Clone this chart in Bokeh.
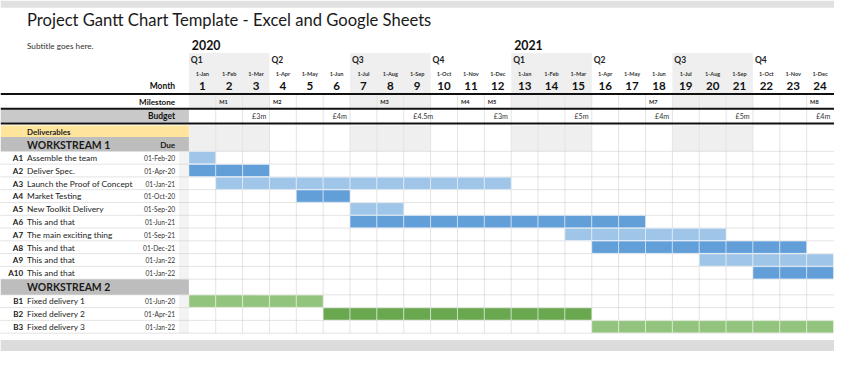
from bokeh.plotting import figure
from bokeh.models import Range1d, ColumnDataSource
from bokeh.core.properties import value
from bokeh.embed import file_html
from bokeh.resources import INLINE

# ---------------- data ----------------
months = list(range(1, 25))
month_dates = ["1-Jan", "1-Feb", "1-Mar", "1-Apr", "1-May", "1-Jun",
               "1-Jul", "1-Aug", "1-Sep", "1-Oct", "1-Nov", "1-Dec"] * 2
years = ["2020", "2021"]
year_start = [1, 13]
quarters = ["Q1", "Q2", "Q3", "Q4", "Q1", "Q2", "Q3", "Q4"]
quarter_start = [1, 4, 7, 10, 13, 16, 19, 22]
milestones = ["M1", "M2", "M3", "M4", "M5", "M7", "M8"]
milestone_month = [2, 4, 8, 11, 12, 18, 24]
budgets = ["£3m", "£4m", "£4.5m", "£3m", "£5m", "£4m", "£5m", "£4m"]

ws1_ids = ["A1", "A2", "A3", "A4", "A5", "A6", "A7", "A8", "A9", "A10"]
ws1_names = ["Assemble the team", "Deliver Spec.", "Launch the Proof of Concept",
             "Market Testing", "New Toolkit Delivery", "This and that",
             "The main exciting thing", "This and that", "This and that", "This and that"]
ws1_due = ["01-Feb-20", "01-Apr-20", "01-Jan-21", "01-Oct-20", "01-Sep-20",
           "01-Jun-21", "01-Sep-21", "01-Dec-21", "01-Jan-22", "01-Jan-22"]
ws1_start = [1, 1, 2, 5, 7, 7, 15, 16, 20, 22]
ws1_end = [1, 3, 12, 6, 8, 17, 20, 23, 24, 24]
ws1_tone = ["light", "dark", "light", "dark", "light", "dark", "light", "dark", "light", "dark"]

ws2_ids = ["B1", "B2", "B3"]
ws2_names = ["Fixed delivery 1", "Fixed delivery 2", "Fixed delivery 3"]
ws2_due = ["01-Jun-20", "01-Apr-21", "01-Jan-22"]
ws2_start = [1, 6, 16]
ws2_end = [5, 15, 24]
ws2_tone = ["light", "dark", "light"]

# ---------------- layout helpers ----------------
CW = 27.375          # reference px per month column
LEFT = 192.0         # left panel width (reference px)
FS = 0.965           # font scale for fitted figure
FONT = "Lato"


def L(px):
    return (px - LEFT) / CW


def fs(v):
    return "%.2fpx" % (v * FS)


p = figure(width=834, height=351, output_backend="svg", toolbar_location=None,
           x_range=Range1d(L(0), L(850)), y_range=Range1d(367, 0),
           min_border=0, outline_line_color=None, background_fill_color="white",
           border_fill_color="white")
p.axis.visible = False
p.grid.visible = False

X0, X1 = L(0), L(850)

# frame strips
p.quad(left=[X0], right=[X1], top=[0], bottom=[7.5], fill_color="#e1e1e1", line_color=None)
p.quad(left=[X0], right=[X1], top=[355], bottom=[367], fill_color="#dcdcdc", line_color=None)

# row geometry
RH = 13.37
a_top = [157.7 + RH * i for i in range(len(ws1_ids))]
ws2_top = a_top[-1] + RH
ws2_bot = 307.7
b_top = [ws2_bot + RH * i for i in range(len(ws2_ids))]
body_bot = b_top[-1] + RH

# quarter shading (Q1, Q3)
shade_q = [i for i in range(len(quarters)) if quarters[i] in ("Q1", "Q3")]
ql = [quarter_start[i] - 1 for i in shade_q]
qr = [quarter_start[i] + 2 for i in shade_q]
for top, bot in [(55, 96.8), (98.8, 112.2), (130.8, 157.7)]:
    p.quad(left=ql, right=qr, top=[top] * len(ql), bottom=[bot] * len(ql),
           fill_color="#efefef", line_color=None)

# left panel bands
p.quad(left=[X0], right=[0], top=[114], bottom=[127.6], fill_color="#c9c9c9", line_color=None)
p.quad(left=[X0], right=[0], top=[130.8], bottom=[142.7], fill_color="#ffe59b", line_color=None)
p.quad(left=[X0, X0], right=[0, 0], top=[142.7, ws2_top], bottom=[157.7, ws2_bot],
       fill_color="#bdbdbd", line_color=None)
p.quad(left=[L(182)], right=[0], top=[157.7], bottom=[ws2_top], fill_color="#f3f3f3", line_color=None)
p.quad(left=[L(182)], right=[0], top=[ws2_bot], bottom=[body_bot], fill_color="#f3f3f3", line_color=None)

# vertical month grid lines
gx = [m for m in range(1, 24)]
p.segment(x0=gx, x1=gx, y0=[98.8] * len(gx), y1=[body_bot] * len(gx),
          line_color="#e4e4e4", line_width=1)

# horizontal dotted lines
hy = [157.7] + [t + RH for t in a_top] + [ws2_bot] + [t + RH for t in b_top]
p.segment(x0=[X0] * len(hy), x1=[X1] * len(hy), y0=hy, y1=hy,
          line_color="#c8c8c8", line_width=1, line_dash="1 1")

# bars (one cell per month)
colors = {("A", "light"): "#9fc5e8", ("A", "dark"): "#629fd9",
          ("B", "light"): "#93c47d", ("B", "dark"): "#6aa84f"}
cl, cr, ct, cb, cc = [], [], [], [], []
for grp, tops, starts, ends, tones in [("A", a_top, ws1_start, ws1_end, ws1_tone),
                                        ("B", b_top, ws2_start, ws2_end, ws2_tone)]:
    for t, s, e, tone in zip(tops, starts, ends, tones):
        for m in range(s, e + 1):
            cl.append(m - 1)
            cr.append(m)
            ct.append(t + 0.3)
            cb.append(t + RH - 0.3)
            cc.append(colors[(grp, tone)])
p.quad(source=ColumnDataSource(dict(l=cl, r=cr, t=ct, b=cb, c=cc)),
       left="l", right="r", top="t", bottom="b", fill_color="c",
       line_color="white", line_alpha=0.45, line_width=1)

# thick black rules
ry = [97.8, 113.1, 128.6]
p.segment(x0=[X0] * 3, x1=[X1] * 3, y0=ry, y1=ry, line_color="#111111", line_width=2)


def txt(x, y, t, size, bold=False, align="left", color="#222222"):
    p.text(x=x, y=y, text=t, text_font=value(FONT), text_font_size=fs(size),
           text_font_style="bold" if bold else "normal", text_align=align,
           text_baseline="middle", text_color=color)


# titles
txt([L(27)], [20.5], ["Project Gantt Chart Template - Excel and Google Sheets"], 17.2, color="#1a1a1a")
txt([L(27)], [48], ["Subtitle goes here."], 8.5, color="#333333")

# header
txt([s - 1 + 3 / CW for s in year_start], [46.5] * 2, years, 12.8, bold=True, color="#111111")
txt([s - 1 + 2 / CW for s in quarter_start], [62] * len(quarters), quarters, 8.8, bold=True, color="#222222")
txt([m - 0.5 for m in months], [76.5] * 24, month_dates, 5.8, bold=True, align="center", color="#333333")
txt([m - 0.5 for m in months], [89.5] * 24, [str(m) for m in months], 12, bold=True, align="center",
    color="#111111")
txt([L(178)], [89.5], ["Month"], 8.8, bold=True, align="right", color="#111111")

# milestone / budget rows
txt([L(178)], [105.8], ["Milestone"], 8.4, bold=True, align="right", color="#111111")
txt([L(178)], [121], ["Budget"], 8.8, bold=True, align="right", color="#111111")
txt([m - 1 + 3.5 / CW for m in milestone_month], [105.5] * len(milestones), milestones, 5.8,
    bold=True, color="#222222")
txt([q + 2 - 0.5 - 4 / CW for q in quarter_start], [121] * len(budgets), budgets, 7.4, color="#333333")

# deliverables / workstream headers
txt([L(27)], [137], ["Deliverables"], 8.2, bold=True, color="#222222")
txt([L(27)], [150.6], ["WORKSTREAM 1"], 10.8, bold=True, color="#1a1a1a")
txt([L(178)], [150.6], ["Due"], 8.4, bold=True, align="right", color="#1a1a1a")
txt([L(27)], [(ws2_top + ws2_bot) / 2 + 0.3], ["WORKSTREAM 2"], 10.8, bold=True, color="#1a1a1a")

# task rows
for tops, ids, names, dues in [(a_top, ws1_ids, ws1_names, ws1_due),
                               (b_top, ws2_ids, ws2_names, ws2_due)]:
    ys = [t + RH / 2 + 0.3 for t in tops]
    txt([L(23)] * len(ids), ys, ids, 8.3, bold=True, align="right", color="#1a1a1a")
    txt([L(27)] * len(ids), ys, names, 8.7, color="#222222")
    txt([L(178)] * len(ids), ys, dues, 6.9, align="right", color="#333333")

html = file_html(p, INLINE)
open("out.html", "w").write(html)
